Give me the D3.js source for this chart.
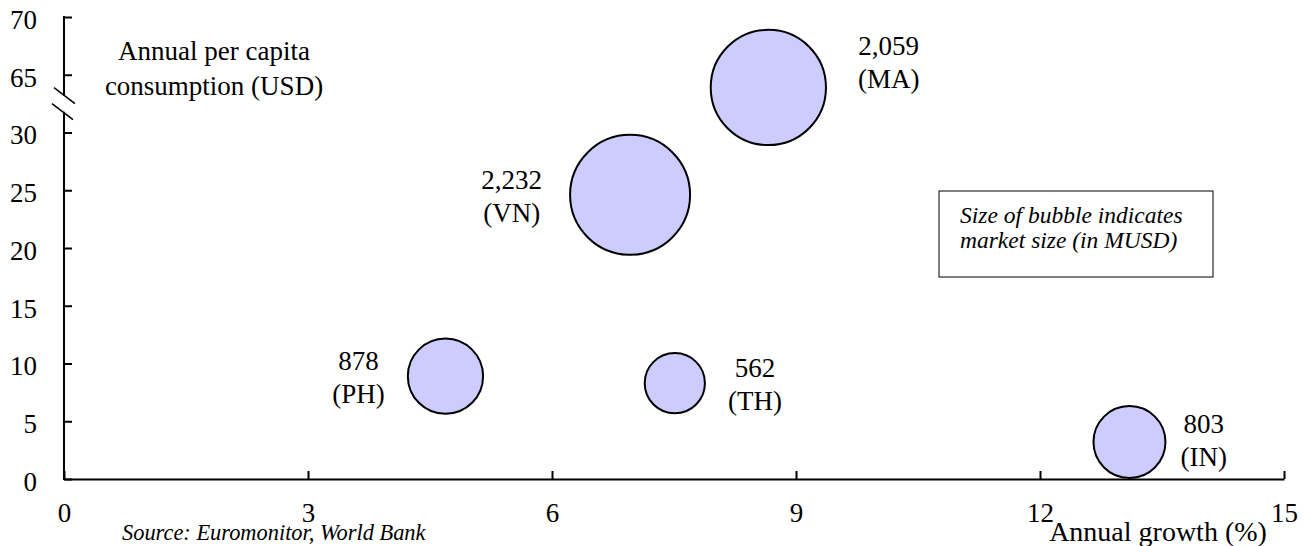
<!DOCTYPE html>
<html>
<head>
<meta charset="utf-8">
<script src="https://cdn.jsdelivr.net/npm/d3@7"></script>
<style>
  html, body { margin: 0; padding: 0; background: #fff; }
  svg { display: block; font-family: "Liberation Serif", "Times New Roman", serif; }
  svg text { font-family: "Liberation Serif", "Times New Roman", serif; }
</style>
</head>
<body>
<svg id="chart" width="1308" height="546"></svg>
<script>
// ---- data ----
const countries   = ["MA", "VN", "PH", "TH", "IN"];
const growth      = [8.66, 6.96, 4.69, 7.51, 13.1];   // Annual growth (%)
const perCapita   = [63.9, 24.6, 8.9, 8.3, 3.2];      // Annual per capita consumption (USD)
const marketSize  = [2059, 2232, 878, 562, 803];      // Market size (MUSD)
const xTicks      = [0, 3, 6, 9, 12, 15];
const yTicks      = [0, 5, 10, 15, 20, 25, 30, 65, 70];

// ---- layout ----
const svg = d3.select("#chart");
const X0 = 64, X1 = 1284, Y0 = 479, Y1 = 17;
const FONT = 27;
const SERIF = "Liberation Serif, Times New Roman, serif";

const x = d3.scaleLinear().domain([0, 15]).range([X0, X1]);
// broken axis: 0..30 continuous, 30..60 hidden by the break, 60..70 continues above
const yLin = d3.scaleLinear().domain([0, 40]).range([Y0, Y1]);
const y = d3.scaleLinear().domain([0, 30, 60, 70]).range([yLin(0), yLin(30), yLin(30), yLin(40)]);
const r = d3.scaleSqrt().domain([0, 2232]).range([0, 60]);

// axes
const xAxis = svg.append("g").attr("transform", `translate(0,${Y0})`)
  .call(d3.axisBottom(x).tickValues(xTicks).tickSizeInner(-8).tickSizeOuter(0).tickPadding(24).tickFormat(d3.format("d")));
xAxis.attr("font-family", SERIF).attr("font-size", FONT);
xAxis.select(".domain").attr("stroke", "#000").attr("stroke-width", 2);
xAxis.selectAll(".tick line").attr("stroke", "#000").attr("stroke-width", 2);
xAxis.selectAll(".tick text").attr("fill", "#000");

const yAxis = svg.append("g").attr("transform", `translate(${X0},0)`)
  .call(d3.axisLeft(y).tickValues(yTicks).tickSizeInner(-8).tickSizeOuter(0).tickPadding(27).tickFormat(d3.format("d")));
yAxis.attr("font-family", SERIF).attr("font-size", FONT);
yAxis.select(".domain").remove();
yAxis.selectAll(".tick line").attr("stroke", "#000").attr("stroke-width", 2);
yAxis.selectAll(".tick text").attr("fill", "#000").attr("dy", "0.42em");

// y axis line with break
const mid = (y(30) + yLin(35)) / 2;
const brk1 = mid - 8, brk2 = mid + 8;
svg.append("line").attr("x1", X0).attr("x2", X0).attr("y1", y(70) - 1).attr("y2", brk1)
  .attr("stroke", "#000").attr("stroke-width", 2);
svg.append("line").attr("x1", X0).attr("x2", X0).attr("y1", brk2).attr("y2", Y0 + 1)
  .attr("stroke", "#000").attr("stroke-width", 2);
[brk1, brk2].forEach((b, i) => {
  const cx = X0 + (i === 0 ? 0.5 : -1.5);
  svg.append("line").attr("x1", cx - 10.5).attr("y1", b - 8).attr("x2", cx + 10.5).attr("y2", b + 8)
    .attr("stroke", "#000").attr("stroke-width", 1.5);
});

// bubbles
const data = countries.map((c, i) => ({ c, gx: growth[i], pc: perCapita[i], ms: marketSize[i] }));
svg.append("g").selectAll("circle").data(data).join("circle")
  .attr("cx", d => x(d.gx)).attr("cy", d => y(d.pc)).attr("r", d => r(d.ms))
  .attr("fill", "#ccccff").attr("stroke", "#000").attr("stroke-width", 2);

// labels: side, gap from bubble edge, vertical shift (px)
const labelCfg = { MA: ["right", 32, -26], VN: ["left", 28, 0], PH: ["left", 23, 0], TH: ["right", 23, 0], IN: ["right", 15, -3] };
const lblG = svg.append("g").attr("font-family", SERIF).attr("font-size", FONT);
data.forEach(d => {
  const [side, gap, dyShift] = labelCfg[d.c];
  const cx = x(d.gx), cy = y(d.pc), rr = r(d.ms);
  const lines = [d3.format(",")(d.ms), `(${d.c})`];
  const g = lblG.append("g");
  const texts = lines.map((t, k) => g.append("text").text(t)
    .attr("text-anchor", "middle")
    .attr("y", cy + dyShift + (k === 0 ? -6 : 27)));
  const w = d3.max(texts, t => t.node().getComputedTextLength());
  const lx = side === "right" ? cx + rr + gap + w / 2 : cx - rr - gap - w / 2;
  texts.forEach(t => t.attr("x", lx));
});

// y axis title
const yt = svg.append("text").attr("font-family", SERIF).attr("font-size", FONT).attr("text-anchor", "middle");
yt.append("tspan").attr("x", 214).attr("y", 60).text("Annual per capita");
yt.append("tspan").attr("x", 214).attr("y", 95).text("consumption (USD)");

// x axis title
svg.append("text").attr("font-family", SERIF).attr("font-size", 28).attr("text-anchor", "middle")
  .attr("x", 1158).attr("y", 541).text("Annual growth (%)");

// source
svg.append("text").attr("font-family", SERIF).attr("font-size", 22.4).attr("font-style", "italic")
  .attr("x", 122).attr("y", 540).text("Source: Euromonitor, World Bank");

// note box
svg.append("rect").attr("x", 939).attr("y", 191).attr("width", 274).attr("height", 86)
  .attr("fill", "#fff").attr("stroke", "#000").attr("stroke-width", 1);
const nt = svg.append("text").attr("font-family", SERIF).attr("font-size", 23.5).attr("font-style", "italic");
nt.append("tspan").attr("x", 960).attr("y", 223).text("Size of bubble indicates");
nt.append("tspan").attr("x", 960).attr("y", 248).text("market size (in MUSD)");
</script>
</body>
</html>
